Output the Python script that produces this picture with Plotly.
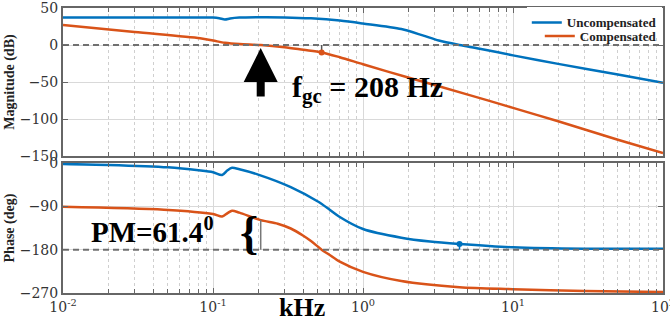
import numpy as np
import plotly.graph_objects as go

# Frequency axis in kHz
freq_mag_u = [0.01, 0.03, 0.06, 0.1, 0.11, 0.12, 0.13, 0.15, 0.2, 0.3, 0.45, 0.7, 1.0, 1.8, 2.5, 3.2, 4.4, 6.0, 10, 20, 50, 100]
mag_u = [37, 37, 37, 37, 36.2, 34.5, 35.8, 37, 37.5, 37.3, 36, 33, 29, 21.5, 13, 6, 0, -5, -14, -25.5, -40, -51]

freq_mag_c = [0.01, 0.03, 0.082, 0.1, 0.12, 0.15, 0.208, 0.3, 0.4, 0.53, 0.7, 1.0, 2.0, 5.0, 10, 20, 50, 100]
mag_c = [27, 17.5, 9, 6, 3, 1.2, 0, -3, -6.5, -10, -16.5, -26, -44, -67, -85, -103, -128, -146]

freq_ph_u = [0.01, 0.02, 0.05, 0.08, 0.1, 0.115, 0.125, 0.134, 0.15, 0.2, 0.33, 0.5, 0.6, 0.7, 1.0, 1.8, 2.8, 4.4, 10, 30, 100]
ph_u = [-2, -4, -9, -15, -19, -25, -15, -10, -13, -24, -50, -80, -97, -112, -137, -155, -163, -168, -175, -178, -178]

freq_ph_c = [0.01, 0.047, 0.1, 0.115, 0.125, 0.134, 0.15, 0.208, 0.27, 0.33, 0.4, 0.45, 0.53, 0.6, 0.7, 1.0, 1.8, 4.4, 10, 30, 100]
ph_c = [-91, -97, -106, -111, -104, -99, -103, -118.6, -126, -136, -151, -162, -180, -191, -205, -226, -245, -258, -262, -266, -268]

# Stability margins
f_gc = 0.208          # compensated gain crossover (kHz)
pm_c = 61.4           # compensated phase margin (deg)
f_pc = 0.53           # compensated phase crossover (kHz)
gm_mag_c = -10        # compensated magnitude at phase crossover (dB)
f_gc_u = 4.4          # uncompensated gain crossover (kHz)
ph_gc_u = -168        # uncompensated phase at gain crossover (deg)

freq_ticks = [0.01, 0.1, 1, 10, 100]
freq_tick_text = ["10<sup>-2</sup>", "10<sup>-1</sup>", "10<sup>0</sup>", "10<sup>1</sup>", "10<sup>2</sup>"]
minor_freqs = [m * d for d in [0.01, 0.1, 1, 10] for m in range(2, 10)]
mag_ticks = [50, 0, -50, -100, -150]
phase_ticks = [0, -90, -180, -270]

BLUE = "#0072BD"
ORANGE = "#D95319"
FRAME = "#666666"
SERIF = "Liberation Serif"

fig = go.Figure()

line_kw = dict(mode="lines", line_shape="spline")
fig.add_trace(go.Scatter(x=freq_mag_u, y=mag_u, name="Uncompensated", legend="legend",
                         line=dict(color=BLUE, width=2.5, smoothing=0.8), xaxis="x", yaxis="y", **line_kw))
fig.add_trace(go.Scatter(x=freq_mag_c, y=mag_c, name="Compensated", legend="legend2",
                         line=dict(color=ORANGE, width=2.5, smoothing=0.8), xaxis="x", yaxis="y", **line_kw))
fig.add_trace(go.Scatter(x=freq_ph_u, y=ph_u, showlegend=False,
                         line=dict(color=BLUE, width=2.5, smoothing=0.8), xaxis="x2", yaxis="y2", **line_kw))
fig.add_trace(go.Scatter(x=freq_ph_c, y=ph_c, showlegend=False,
                         line=dict(color=ORANGE, width=2.5, smoothing=0.8), xaxis="x2", yaxis="y2", **line_kw))

# Reference lines (0 dB, -180 deg)
fig.add_trace(go.Scatter(x=[0.01, 100], y=[0, 0], mode="lines", showlegend=False,
                         line=dict(color="#707070", width=2, dash="6px,4px"), xaxis="x", yaxis="y"))
fig.add_trace(go.Scatter(x=[0.01, 100], y=[-180, -180], mode="lines", showlegend=False,
                         line=dict(color="#707070", width=2, dash="6px,4px"), xaxis="x2", yaxis="y2"))

# Margin indicator lines and markers
fig.add_trace(go.Scatter(x=[f_pc, f_pc], y=[0, gm_mag_c], mode="lines", showlegend=False,
                         line=dict(color="#555555", width=1.5), xaxis="x", yaxis="y"))
fig.add_trace(go.Scatter(x=[f_pc], y=[gm_mag_c], mode="markers", showlegend=False,
                         marker=dict(color=ORANGE, size=6), xaxis="x", yaxis="y"))
fig.add_trace(go.Scatter(x=[f_gc, f_gc], y=[-180, -180 + pm_c], mode="lines", showlegend=False,
                         line=dict(color="#777777", width=1.5), xaxis="x2", yaxis="y2"))
fig.add_trace(go.Scatter(x=[f_gc_u, f_gc_u], y=[-180, ph_gc_u], mode="lines", showlegend=False,
                         line=dict(color=BLUE, width=1.5), xaxis="x2", yaxis="y2"))
fig.add_trace(go.Scatter(x=[f_gc_u], y=[ph_gc_u], mode="markers", showlegend=False,
                         marker=dict(color=BLUE, size=6), xaxis="x2", yaxis="y2"))

tick_font = dict(family="DejaVu Serif", size=14, color="#333333")

xcommon = dict(type="log", range=[-2, 2], showline=True, linecolor=FRAME, linewidth=2,
               mirror="allticks", ticks="inside", ticklen=5, tickcolor=FRAME,
               tickmode="array", tickvals=freq_ticks, ticktext=freq_tick_text,
               showgrid=True, gridcolor="#d9d9d9", gridwidth=1, automargin=False,
               tickfont=tick_font, zeroline=False, ticklabeloverflow="allow",
               minor=dict(tickmode="array", tickvals=minor_freqs, ticks="inside", ticklen=4,
                          tickcolor=FRAME, showgrid=True, gridcolor="#cfcfcf",
                          griddash="dot", gridwidth=1))

ycommon = dict(showline=True, linecolor=FRAME, linewidth=2, mirror="allticks",
               ticks="inside", ticklen=5, tickcolor=FRAME, showgrid=True,
               gridcolor="#d9d9d9", gridwidth=1, zeroline=False, tickfont=tick_font,
               automargin=False, ticklabeloverflow="allow")

legend_kw = dict(xanchor="right", yanchor="top",
                 font=dict(family=SERIF, size=13, color="#222", weight="bold"),
                 tracegroupgap=0, itemwidth=30)

fig.update_layout(
    width=670, height=322,
    margin=dict(l=63, r=7, t=8, b=29, autoexpand=False),
    paper_bgcolor="white", plot_bgcolor="white",
    xaxis=dict(domain=[0, 1], anchor="y", matches="x2", showticklabels=False, **xcommon),
    xaxis2=dict(domain=[0, 1], anchor="y2", showticklabels=True, **xcommon),
    yaxis=dict(domain=[0.4807, 1.0], anchor="x", range=[-150, 50], tickvals=mag_ticks,
               title=dict(text="<b>Magnitude (dB)</b>", standoff=2,
                          font=dict(family=SERIF, size=14, color="#222")), **ycommon),
    yaxis2=dict(domain=[0, 0.456], anchor="x2", range=[-270, 0], tickvals=phase_ticks,
                title=dict(text="<b>Phase (deg)</b>", standoff=2,
                           font=dict(family=SERIF, size=14, color="#222")), **ycommon),
    legend=dict(x=0.998, y=1.002, bgcolor="white", **legend_kw),
    legend2=dict(x=0.998, y=0.954, bgcolor="rgba(0,0,0,0)", **legend_kw),
    showlegend=True,
)

# Gain crossover arrow and labels
fig.add_annotation(x=np.log10(f_gc), y=-4, xref="x", yref="y", ax=0, ay=50,
                   showarrow=True, arrowhead=2, arrowwidth=8, arrowsize=0.85,
                   arrowcolor="black", text="")
fig.add_annotation(x=0.378, y=0.715, xref="paper", yref="paper", xanchor="left", yanchor="middle",
                   text="<b>f<sub>gc</sub> = 208 Hz</b>", showarrow=False,
                   font=dict(family=SERIF, size=30, color="black"))
fig.add_annotation(x=0.043, y=0.221, xref="paper", yref="paper", xanchor="left", yanchor="middle",
                   text="<b>PM=61.4<sup>0</sup></b>", showarrow=False,
                   font=dict(family=SERIF, size=29, color="black"))
fig.add_annotation(x=0.31, y=0.212, xref="paper", yref="paper", xanchor="center", yanchor="middle",
                   text="<b>{</b>", showarrow=False,
                   font=dict(family=SERIF, size=46, color="black"))
fig.add_annotation(x=0.398, y=-0.05, xref="paper", yref="paper", xanchor="center", yanchor="middle",
                   text="<b>kHz</b>", showarrow=False,
                   font=dict(family=SERIF, size=26, color="black"))

fig.write_html("out.html")
